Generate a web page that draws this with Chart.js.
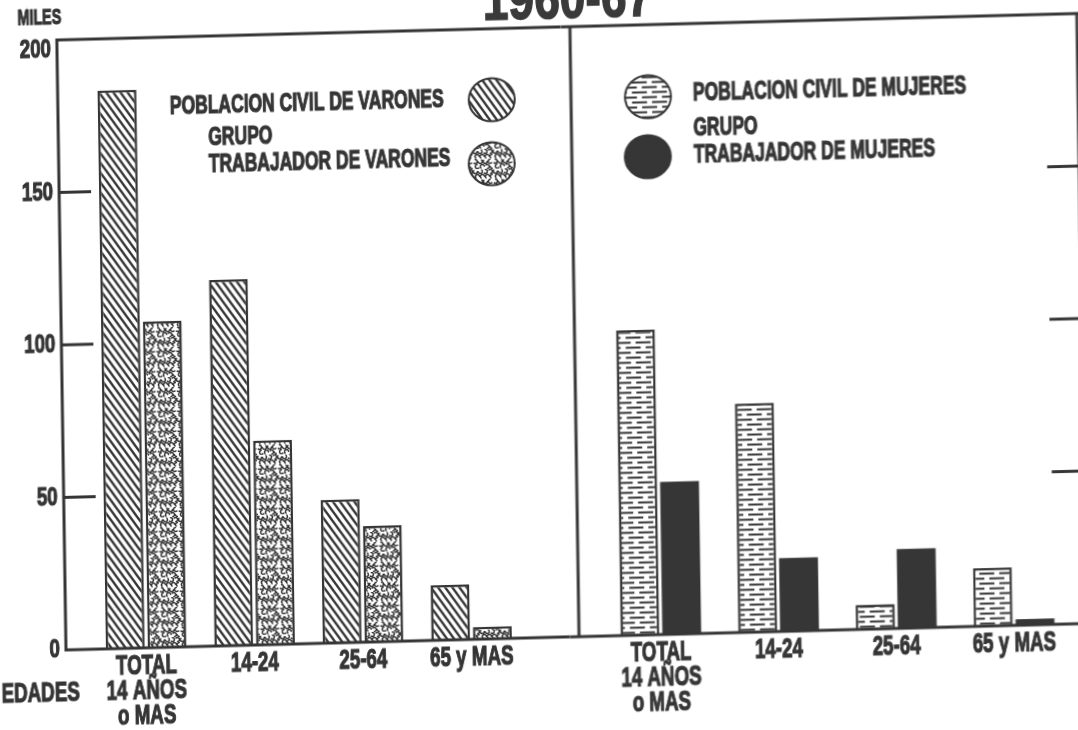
<!DOCTYPE html>
<html>
<head>
<meta charset="utf-8">
<script src="https://cdn.jsdelivr.net/npm/chart.js@4.4.0/dist/chart.umd.min.js"></script>
<style>
    body { margin: 0; background: #fff; overflow: hidden; width: 1078px; height: 730px; position: relative; }
    /* la hoja escaneada esta algo torcida */
    #sheet { position: absolute; left: 0; top: 0; width: 1100px; height: 730px;
             transform: matrix(1, -0.026, 0.015, 1, 0, 0); transform-origin: 66px 650px; }
    #sheet canvas { position: absolute; top: 0; }
    #title { position: absolute; left: 427px; top: -19px; width: 300px; text-align: center; white-space: nowrap;
             font: bold 60px/60px "Liberation Sans", Arial, sans-serif; color: #3a3a3a;
             -webkit-text-stroke: 1.5px #3a3a3a;
             transform: scaleX(0.77); transform-origin: 150px 30px; }
</style>
</head>
<body>
<div id="sheet">
    <canvas id="menChart" width="570" height="730" style="left:0"></canvas>
    <canvas id="womenChart" width="530" height="730" style="left:570px"></canvas>
    <div id="title">1960-67</div>
</div>
<script>
// datos (miles de personas)
const ageGroups = [["TOTAL", "14 AÑOS", "o MAS"], "14-24", "25-64", "65 y MAS"];
const menCivil = [183, 120, 47, 18];
const menWorkers = [107, 67, 38, 4];
const womenCivil = [100, 75, 8, 19];
const womenWorkers = [50, 24, 26, 2];
const yTicks = [0, 50, 100, 150, 200];

const INK = "#353535";
const FONT = '"Liberation Sans", Arial, sans-serif';
Chart.defaults.font.family = FONT;
Chart.defaults.color = INK;

// ================= TRAMAS =================
function makePattern(ctx, w, h, draw) {
    const c = document.createElement("canvas");
    c.width = w;
    c.height = h;
    const g = c.getContext("2d");
    g.fillStyle = "#fff";
    g.fillRect(0, 0, w, h);
    g.strokeStyle = INK;
    draw(g, w, h);
    return ctx.createPattern(c, "repeat");
}

function diagonal(g, w, h) {
    g.lineWidth = 2.4;
    for (const dx of [-w, 0, w]) {
        g.beginPath();
        g.moveTo(dx - w / 2, -h / 2);
        g.lineTo(dx + w * 1.5, h * 1.5);
        g.stroke();
    }
}

function worms(g, w, h) {
    g.lineWidth = 1.5;
    g.lineCap = "round";
    for (let i = 0; i < 4; i++) {
        for (let j = 0; j < 4; j++) {
            const a = ((i * 7 + j * 3 + i * j) % 8) * Math.PI / 4;
            const cx = 2.5 + i * 5 + (j % 2) * 2;
            const cy = 2.5 + j * 5;
            g.beginPath();
            g.arc(cx, cy, 2.0, a, a + Math.PI * 1.2);
            g.stroke();
        }
    }
}

function bricks(g, w, h) {
    g.lineWidth = 2;
    g.beginPath();
    g.moveTo(0, 2.5); g.lineTo(15, 2.5);
    g.moveTo(0, 7.5); g.lineTo(5, 7.5);
    g.moveTo(10, 7.5); g.lineTo(20, 7.5);
    g.stroke();
}

// ================= DIBUJO AUXILIAR =================
function legendCircle(ctx, x, y, fill) {
    ctx.save();
    ctx.beginPath();
    ctx.ellipse(x, y, 23, 21.5, 0, 0, Math.PI * 2);
    ctx.fillStyle = fill;
    ctx.fill();
    ctx.lineWidth = 2;
    ctx.strokeStyle = INK;
    ctx.stroke();
    ctx.restore();
}

// texto condensado y grueso (como la rotulacion del original)
function label(ctx, str, x, y, size, align, sx) {
    ctx.save();
    ctx.translate(x, y);
    ctx.scale(sx, 1);
    ctx.font = "bold " + size + "px " + FONT;
    ctx.fillStyle = INK;
    ctx.strokeStyle = INK;
    ctx.lineWidth = 1.2;
    ctx.textAlign = align;
    ctx.textBaseline = "middle";
    ctx.fillText(str, 0, 0);
    ctx.strokeText(str, 0, 0);
    ctx.restore();
}

function drawXLabels(chart) {
    const x = chart.scales.x;
    chart.data.labels.forEach((lab, i) => {
        const px = x.getPixelForTick(i);
        [].concat(lab).forEach((line, k) => {
            label(chart.ctx, line, px, chart.chartArea.bottom + 18 + k * 25, 28, "center", 0.67);
        });
    });
}

function frame(ctx, chart, axisX, tickDir, fromX, toX) {
    const y = chart.scales.y;
    const y0 = y.getPixelForValue(0);
    const yTop = y.getPixelForValue(200);
    ctx.save();
    ctx.strokeStyle = INK;
    ctx.lineWidth = 3;
    ctx.beginPath();
    ctx.moveTo(fromX, yTop); ctx.lineTo(toX, yTop);
    ctx.moveTo(fromX, y0); ctx.lineTo(toX, y0);
    ctx.moveTo(axisX, yTop - 1.5); ctx.lineTo(axisX, y0 + 1.5);
    yTicks.filter(v => v > 0 && v < 200).forEach(v => {
        const py = y.getPixelForValue(v);
        ctx.moveTo(axisX, py);
        ctx.lineTo(axisX + tickDir * 32, py);
    });
    ctx.stroke();
    ctx.restore();
}

function buildChart(id, civil, workers, civilFill, workerFill, opts) {
    const ctx = document.getElementById(id).getContext("2d");
    return new Chart(ctx, {
        type: "bar",
        data: {
            labels: ageGroups,
            datasets: [{
                data: civil,
                backgroundColor: civilFill(ctx),
                borderColor: INK,
                borderWidth: 2.5,
                categoryPercentage: opts.catPct,
                barPercentage: 0.93
            }, {
                data: workers,
                backgroundColor: workerFill(ctx),
                borderColor: INK,
                borderWidth: workerFill === solidFill ? 0 : 2.5,
                categoryPercentage: opts.catPct,
                barPercentage: 0.93
            }]
        },
        options: {
            responsive: false,
            animation: false,
            devicePixelRatio: 1,
            layout: { padding: opts.padding },
            plugins: { legend: { display: false }, tooltip: { enabled: false } },
            scales: {
                x: {
                    grid: { display: false },
                    border: { display: false },
                    ticks: { display: false },
                    afterFit: s => { s.height = 80; }
                },
                y: {
                    display: opts.showY,
                    min: 0,
                    max: 200,
                    grid: { display: false, drawTicks: false },
                    border: { display: false },
                    afterBuildTicks: s => { s.ticks = yTicks.map(v => ({ value: v })); },
                    ticks: { display: false },
                    afterFit: s => { if (opts.showY) s.width = 92; }
                }
            }
        },
        plugins: [{ id: "extras", afterDraw: chart => { drawXLabels(chart); opts.extras(chart); } }]
    });
}

const hatchFill = ctx => makePattern(ctx, 7, 10, diagonal);
const wormFill = ctx => makePattern(ctx, 20, 20, worms);
const brickFill = ctx => makePattern(ctx, 20, 10, bricks);
const solidFill = () => "#363636";

// ================= VARONES =================
buildChart("menChart", menCivil, menWorkers, hatchFill, wormFill, {
    catPct: 0.77,
    showY: true,
    padding: { top: 40, right: 44, left: 0, bottom: 0 },
    extras: chart => {
        const ctx = chart.ctx;
        const y = chart.scales.y;
        frame(ctx, chart, 66, 1, 66, chart.width);
        yTicks.forEach(v => {
            const py = Math.max(y.getPixelForValue(v), chart.chartArea.top + 10);
            label(ctx, String(v), 60, py, 26, "right", 0.72);
        });
        label(ctx, "MILES", 27, 18, 22, "left", 0.65);
        label(ctx, "EDADES", 1, chart.chartArea.bottom + 43, 28, "left", 0.67);
        label(ctx, "POBLACION CIVIL DE VARONES", 178, 110, 25, "left", 0.70);
        label(ctx, "GRUPO", 216, 142, 25, "left", 0.70);
        label(ctx, "TRABAJADOR DE VARONES", 216, 169, 25, "left", 0.70);
        legendCircle(ctx, 500, 111, hatchFill(ctx));
        legendCircle(ctx, 499, 175, wormFill(ctx));
    }
});

// ================= MUJERES =================
buildChart("womenChart", womenCivil, womenWorkers, brickFill, solidFill, {
    catPct: 0.71,
    showY: false,
    padding: { top: 40, right: 27, left: 32, bottom: 0 },
    extras: chart => {
        const ctx = chart.ctx;
        const y = chart.scales.y;
        frame(ctx, chart, 516, -1, 0, chart.width);
        // divisor central
        ctx.save();
        ctx.strokeStyle = INK;
        ctx.lineWidth = 3;
        ctx.beginPath();
        ctx.moveTo(9, y.getPixelForValue(200));
        ctx.lineTo(9, y.getPixelForValue(0));
        ctx.stroke();
        ctx.restore();

        label(ctx, "POBLACION CIVIL DE MUJERES", 131, 110, 25, "left", 0.70);
        label(ctx, "GRUPO", 131, 145, 25, "left", 0.70);
        label(ctx, "TRABAJADOR DE MUJERES", 131, 172, 25, "left", 0.70);
        legendCircle(ctx, 86, 112, brickFill(ctx));
        legendCircle(ctx, 85, 172, "#363636");
    }
});
</script>
</body>
</html>
